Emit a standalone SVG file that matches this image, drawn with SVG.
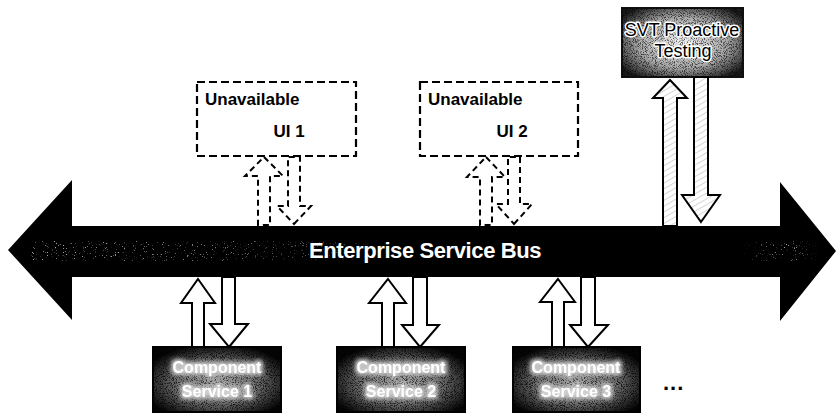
<svg xmlns="http://www.w3.org/2000/svg" width="837" height="413" viewBox="0 0 837 413">
  <style>
    .lbl { font-family: "Liberation Sans", Arial, sans-serif; }
    .ui-box { fill: #fff; stroke: #000; stroke-width: 2.2; stroke-dasharray: 8 4; }
    .ui-head { font-size: 17px; font-weight: bold; fill: #000; }
    .ui-name { font-size: 17px; font-weight: bold; fill: #000; text-anchor: middle; }
    .bus-text { font-size: 22px; font-weight: bold; fill: #fff; text-anchor: middle; letter-spacing: -0.4px; }
    .comp-box { fill: url(#compFill); stroke: #000; stroke-width: 2; }
    .comp-text { font-size: 16px; font-weight: bold; fill: #fff; text-anchor: middle; filter: url(#glow); }
    .svt-text { font-size: 18px; fill: #000; text-anchor: middle; stroke: #fff; stroke-width: 3; paint-order: stroke; stroke-linejoin: round; }
    .solid-arrow { fill: #fff; stroke: #000; stroke-width: 2; stroke-linejoin: miter; }
    .hatched-arrow { fill: url(#hatch); stroke: #000; stroke-width: 2; stroke-linejoin: miter; }
    .dashed-arrow { fill: #fff; stroke: #000; stroke-width: 2; stroke-dasharray: 6 4; }
    .dots { font-size: 22px; font-weight: bold; fill: #000; letter-spacing: 1px; }
  </style>
  <defs>
    <radialGradient id="compFill" cx="50%" cy="55%" r="60%">
      <stop offset="0" stop-color="#a8a8a8"/>
      <stop offset="0.55" stop-color="#686868"/>
      <stop offset="1" stop-color="#050505"/>
    </radialGradient>
    <radialGradient id="svtFill" cx="50%" cy="50%" r="62%">
      <stop offset="0" stop-color="#f2f2f2"/>
      <stop offset="0.6" stop-color="#a8a8a8"/>
      <stop offset="1" stop-color="#1a1a1a"/>
    </radialGradient>
    <linearGradient id="busBand" x1="0" y1="0" x2="1" y2="0">
      <stop offset="0" stop-color="#fff" stop-opacity="0.8"/>
      <stop offset="0.35" stop-color="#fff" stop-opacity="0.4"/>
      <stop offset="0.45" stop-color="#fff" stop-opacity="0"/>
      <stop offset="0.9" stop-color="#fff" stop-opacity="0"/>
      <stop offset="0.96" stop-color="#fff" stop-opacity="0.8"/>
      <stop offset="1" stop-color="#fff" stop-opacity="0"/>
    </linearGradient>
    <pattern id="hatch" width="5" height="5" patternUnits="userSpaceOnUse" patternTransform="rotate(60)">
      <rect width="5" height="5" fill="#fff"/>
      <line x1="0" y1="0" x2="0" y2="5" stroke="#c4c4c4" stroke-width="1.4"/>
    </pattern>
    <!-- sparse grey flecks cut out of a source shape -->
    <filter id="speckle" x="0" y="0" width="100%" height="100%">
      <feTurbulence type="fractalNoise" baseFrequency="0.9" numOctaves="2" seed="4" result="n"/>
      <feColorMatrix in="n" type="matrix" values="0 0 0 0 0.7  0 0 0 0 0.7  0 0 0 0 0.7  9 0 0 0 -5.9" result="dots"/>
      <feComposite in="dots" in2="SourceGraphic" operator="in"/>
    </filter>
    <!-- dark grain over the shaded boxes -->
    <filter id="grain" x="0" y="0" width="100%" height="100%">
      <feTurbulence type="fractalNoise" baseFrequency="1.1" numOctaves="2" seed="9" result="n"/>
      <feColorMatrix in="n" type="matrix" values="0 0 0 0 0  0 0 0 0 0  0 0 0 0 0  5 0 0 0 -2.4" result="dots"/>
      <feComposite in="dots" in2="SourceGraphic" operator="in"/>
    </filter>
    <filter id="glow" x="-20%" y="-40%" width="140%" height="180%">
      <feMorphology in="SourceAlpha" operator="dilate" radius="2" result="thick"/>
      <feGaussianBlur in="thick" stdDeviation="2" result="soft"/>
      <feFlood flood-color="#d0d0d0"/>
      <feComposite in2="soft" operator="in" result="halo"/>
      <feMerge>
        <feMergeNode in="halo"/>
        <feMergeNode in="SourceGraphic"/>
      </feMerge>
    </filter>
  </defs>

  <rect width="837" height="413" fill="#fff"/>

  <!-- Enterprise Service Bus: double-headed block arrow -->
  <g id="bus">
    <polygon points="8,250 72,180 72,226 780,226 780,182 836,251 780,321 780,277 72,277 72,320" fill="#000"/>
    <rect x="30" y="241" width="790" height="20" fill="url(#busBand)" filter="url(#speckle)"/>
    <text class="lbl bus-text" x="425" y="258">Enterprise Service Bus</text>
  </g>

  <!-- unavailable user interfaces -->
  <g id="ui1">
    <rect class="ui-box" x="197" y="82" width="159" height="74"/>
    <text class="lbl ui-head" x="205" y="105">Unavailable</text>
    <text class="lbl ui-name" x="289" y="137">UI 1</text>
  </g>
  <g id="ui2">
    <rect class="ui-box" x="420" y="82" width="158" height="74"/>
    <text class="lbl ui-head" x="428" y="105">Unavailable</text>
    <text class="lbl ui-name" x="512" y="137">UI 2</text>
  </g>

  <!-- proactive testing node -->
  <g id="svt">
    <rect x="622" y="8" width="121" height="69" fill="url(#svtFill)" stroke="#111" stroke-width="2"/>
    <rect x="622" y="8" width="121" height="69" fill="#fff" filter="url(#grain)" opacity="0.6"/>
    <text class="lbl svt-text" x="682" y="36">SVT Proactive</text>
    <text class="lbl svt-text" x="683" y="57">Testing</text>
  </g>

  <!-- component services -->
  <g id="comp1">
    <rect class="comp-box" x="153" y="347" width="128" height="65"/>
    <rect x="153" y="347" width="128" height="65" fill="#fff" filter="url(#grain)" opacity="0.7"/>
    <text class="lbl comp-text" x="217" y="373">Component</text>
    <text class="lbl comp-text" x="217" y="397">Service 1</text>
  </g>
  <g id="comp2">
    <rect class="comp-box" x="337" y="347" width="128" height="65"/>
    <rect x="337" y="347" width="128" height="65" fill="#fff" filter="url(#grain)" opacity="0.7"/>
    <text class="lbl comp-text" x="401" y="373">Component</text>
    <text class="lbl comp-text" x="401" y="397">Service 2</text>
  </g>
  <g id="comp3">
    <rect class="comp-box" x="513" y="347" width="127" height="65"/>
    <rect x="513" y="347" width="127" height="65" fill="#fff" filter="url(#grain)" opacity="0.7"/>
    <text class="lbl comp-text" x="576" y="373">Component</text>
    <text class="lbl comp-text" x="576" y="397">Service 3</text>
  </g>

  <g id="more">
    <text class="lbl dots" x="663" y="390">...</text>
  </g>

  <!-- request / response arrows between the bus and each node -->
  <g id="connectors">
    <!-- UI 1 (unavailable, dashed) -->
    <polygon class="dashed-arrow" points="264,157 283,176 270,176 270,225 258,225 258,176 245,176"/>
    <polygon class="dashed-arrow" points="294,224 311,206 300,206 300,157 288,157 288,206 277,206"/>
    <!-- UI 2 (unavailable, dashed) -->
    <polygon class="dashed-arrow" points="486,157 505,177 492,177 492,225 480,225 480,177 467,177"/>
    <polygon class="dashed-arrow" points="514,224 532,204 520,204 520,157 508,157 508,204 496,204"/>
    <!-- SVT Proactive Testing -->
    <polygon class="hatched-arrow" points="670,80 687,98 677,98 677,226 663,226 663,98 653,98"/>
    <polygon class="hatched-arrow" points="701,222 720,195 708,195 708,77 694,77 694,195 682,195"/>
    <!-- Component Service 1 -->
    <polygon class="solid-arrow" points="198,279 215,303 204,303 204,347 192,347 192,303 181,303"/>
    <polygon class="solid-arrow" points="229,347 248,324 235,324 235,277 222,277 222,324 210,324"/>
    <!-- Component Service 2 -->
    <polygon class="solid-arrow" points="388,279 406,303 394,303 394,347 382,347 382,303 369,303"/>
    <polygon class="solid-arrow" points="420,347 439,325 427,325 427,277 413,277 413,325 402,325"/>
    <!-- Component Service 3 -->
    <polygon class="solid-arrow" points="558,279 575,302 564,302 564,347 552,347 552,302 540,302"/>
    <polygon class="solid-arrow" points="588,347 608,325 595,325 595,277 581,277 581,325 570,325"/>
  </g>
</svg>
